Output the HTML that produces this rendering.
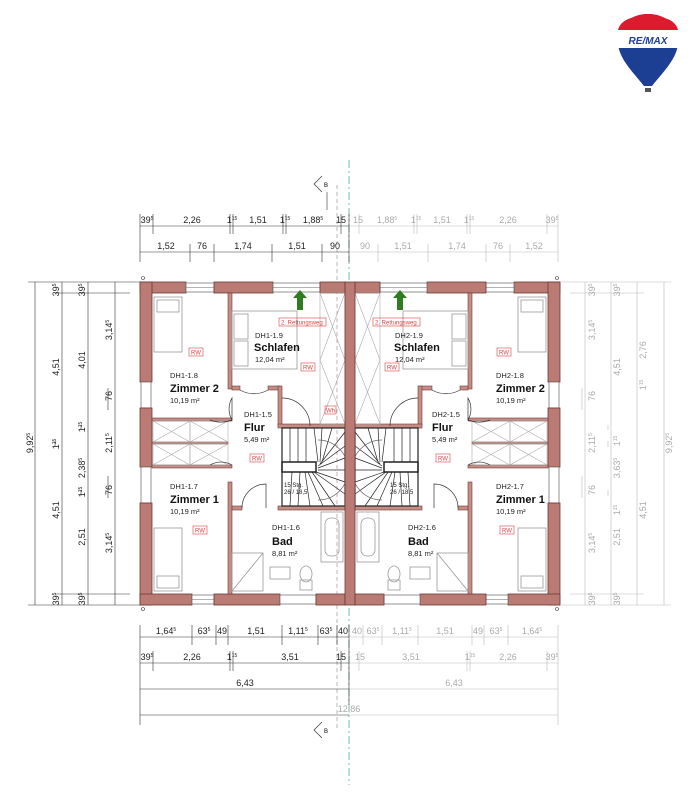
<!DOCTYPE html>
<html><head><meta charset="utf-8"><style>
html,body{margin:0;padding:0;background:#fff;}
svg{display:block;font-family:"Liberation Sans",sans-serif;}
.w{fill:#b97b74;stroke:#6e3a35;stroke-width:0.8}
.iw{fill:#c48d86;stroke:#6e3a35;stroke-width:0.6}
.win{fill:#fff;stroke:#666;stroke-width:0.7}
.f{fill:none;stroke:#999;stroke-width:0.8}
.dl{stroke:#333;stroke-width:0.6;fill:none}
.gl{stroke:#bbb;stroke-width:0.6;fill:none}
.t{font-size:9px;fill:#222}
.g{font-size:9px;fill:#aaa}
.lab{font-size:7.5px;fill:#222}
.nm{font-size:11px;font-weight:bold;fill:#111}
.rw{font-size:6px;fill:#d44}
</style></head><body>
<svg width="693" height="800" viewBox="0 0 693 800" xmlns="http://www.w3.org/2000/svg">
<defs>
<g id="house">
  <!-- outer walls -->
  <rect class="w" x="140" y="282" width="46" height="11"/>
  <rect class="win" x="186" y="283" width="28" height="9"/><line x1="186" y1="287.5" x2="214" y2="287.5" stroke="#666" stroke-width="0.6"/>
  <rect class="w" x="214" y="282" width="59" height="11"/>
  <rect class="win" x="273" y="283" width="47" height="9"/><line x1="273" y1="287.5" x2="320" y2="287.5" stroke="#666" stroke-width="0.6"/>
  <rect class="w" x="320" y="282" width="25" height="11"/>
  <rect class="w" x="140" y="282" width="12" height="100"/>
  <rect class="win" x="141" y="382" width="10" height="26"/>
  <rect class="w" x="140" y="408" width="12" height="59"/>
  <rect class="win" x="141" y="467" width="10" height="36"/>
  <rect class="w" x="140" y="503" width="12" height="102"/>
  <rect class="w" x="140" y="594" width="52" height="11"/>
  <rect class="win" x="192" y="595" width="22" height="9"/><line x1="192" y1="599.5" x2="214" y2="599.5" stroke="#666" stroke-width="0.6"/>
  <rect class="w" x="214" y="594" width="66" height="11"/>
  <rect class="win" x="280" y="595" width="36" height="9"/>
  <rect class="w" x="316" y="594" width="29" height="11"/>
  <!-- interior walls -->
  <rect class="iw" x="228" y="293" width="4" height="96"/>
  <rect class="iw" x="228" y="482" width="4" height="112"/>
  <rect class="iw" x="232" y="386" width="8" height="4"/>
  <rect class="iw" x="268" y="386" width="12" height="4"/>
  <rect class="iw" x="278" y="386" width="4" height="40"/>
  <rect class="iw" x="278" y="424" width="67" height="4"/>
  <rect class="iw" x="152" y="418" width="80" height="3"/>
  <rect class="iw" x="152" y="465" width="80" height="3"/>
  <rect class="iw" x="152" y="442" width="76" height="2"/>
  <rect class="iw" x="232" y="506" width="10" height="4"/>
  <rect class="iw" x="278" y="506" width="67" height="4"/>
  <!-- wardrobes -->
  <g stroke="#aaa" stroke-width="0.6" fill="none">
   <rect x="153" y="421" width="37" height="21"/><rect x="190" y="421" width="38" height="21"/>
   <rect x="153" y="444" width="37" height="21"/><rect x="190" y="444" width="38" height="21"/>
   <path d="M153 421L190 442M190 421L153 442M190 421L228 442M228 421L190 442M153 444L190 465M190 444L153 465M190 444L228 465M228 444L190 465"/>
   <!-- shaft -->
   <rect x="320" y="293" width="25" height="131"/>
   <path d="M320 293L345 360M345 293L320 360M320 360L345 424M345 360L320 424"/>
  </g>
  <!-- door arcs -->
  <g stroke="#333" stroke-width="0.7" fill="none">
   <path d="M232 420 A22 22 0 0 1 232 398 L 232 420"/>
   <path d="M232 420 A30 30 0 0 1 210 420"/>
   <path d="M232 465 A22 22 0 0 0 210 465"/>
   <path d="M240 390 A28 28 0 0 0 268 390"/>
   <path d="M242 508 A24 24 0 0 1 266 484 L266 508"/>
   <path d="M282 398 A28 28 0 0 1 310 426"/>
  </g>
  <!-- stairs -->
  <g stroke="#222" stroke-width="0.7" fill="none">
   <rect x="282" y="428" width="63" height="78" stroke-width="1.2"/>
   <rect x="282" y="462" width="34" height="10" stroke-width="1.5"/>
   <path d="M290 428V462M298 428V462M306 428V462M314 428L318 462M322 428L320 462M332 428L322 462M345 432L320 464M345 446L318 466M345 458L318 468M345 470L318 470M345 482L316 472M345 494L314 472M335 506L312 472M323 506L308 472M310 506L305 472M298 506L300 472M290 506L292 472"/>
   <path d="M318 440 A30 30 0 0 1 318 500" stroke="#666"/>
  </g>
  <!-- furniture -->
  <g class="f">
   <rect x="154" y="297" width="28" height="55"/><rect x="157" y="300" width="22" height="12"/>
   <rect x="154" y="528" width="28" height="63"/><rect x="157" y="576" width="22" height="12"/>
   <rect x="232" y="311" width="65" height="58"/><rect x="234" y="314" width="14" height="25"/><rect x="234" y="341" width="14" height="25"/>
   <rect x="232" y="553" width="31" height="38"/><path d="M232 591L263 553"/>
   <rect x="321" y="512" width="22" height="50"/><rect x="325" y="518" width="14" height="38" rx="6"/>
   <rect x="270" y="567" width="20" height="12"/>
   <ellipse cx="306" cy="574" rx="6" ry="8"/><rect x="300" y="580" width="12" height="10"/>
  </g>
  <!-- green arrow -->
  <path d="M297 310V298H293L300 290L307 298H303V310Z" fill="#2e7d1f"/>
  <!-- dots -->
  <circle cx="143" cy="278" r="1.5" fill="none" stroke="#333" stroke-width="0.6"/>
  <circle cx="143" cy="609" r="1.5" fill="none" stroke="#333" stroke-width="0.6"/>
</g>
</defs>

<!-- center axis lines -->
<line x1="349" y1="160" x2="349" y2="785" stroke="#5a9" stroke-width="0.8" stroke-dasharray="8,3,2,3"/>
<line x1="337" y1="185" x2="337" y2="730" stroke="#888" stroke-width="0.6" stroke-dasharray="4,3"/>
<!-- section markers -->
<path d="M322 176L314 184L322 192" fill="none" stroke="#333" stroke-width="0.7"/><text x="324" y="187" style="font-size:6px">B</text>
<line x1="327" y1="192" x2="327" y2="210" stroke="#333" stroke-width="0.6"/>
<path d="M322 722L314 730L322 738" fill="none" stroke="#333" stroke-width="0.7"/><text x="324" y="733" style="font-size:6px">B</text>

<use href="#house"/>
<use href="#house" transform="translate(700,0) scale(-1,1)"/>
<rect class="w" x="345" y="282" width="10" height="323"/>

<!-- labels left -->
<text class="lab" x="255" y="338">DH1-1.9</text><text class="nm" x="254" y="351">Schlafen</text><text class="lab" x="255" y="362">12,04 m²</text>
<text class="lab" x="170" y="378">DH1-1.8</text><text class="nm" x="170" y="392">Zimmer 2</text><text class="lab" x="170" y="403">10,19 m²</text>
<text class="lab" x="244" y="417">DH1-1.5</text><text class="nm" x="244" y="431">Flur</text><text class="lab" x="244" y="442">5,49 m²</text>
<text class="lab" x="170" y="489">DH1-1.7</text><text class="nm" x="170" y="503">Zimmer 1</text><text class="lab" x="170" y="514">10,19 m²</text>
<text class="lab" x="272" y="530">DH1-1.6</text><text class="nm" x="272" y="545">Bad</text><text class="lab" x="272" y="556">8,81 m²</text>
<!-- labels right -->
<text class="lab" x="395" y="338">DH2-1.9</text><text class="nm" x="394" y="351">Schlafen</text><text class="lab" x="395" y="362">12,04 m²</text>
<text class="lab" x="496" y="378">DH2-1.8</text><text class="nm" x="496" y="392">Zimmer 2</text><text class="lab" x="496" y="403">10,19 m²</text>
<text class="lab" x="432" y="417">DH2-1.5</text><text class="nm" x="432" y="431">Flur</text><text class="lab" x="432" y="442">5,49 m²</text>
<text class="lab" x="496" y="489">DH2-1.7</text><text class="nm" x="496" y="503">Zimmer 1</text><text class="lab" x="496" y="514">10,19 m²</text>
<text class="lab" x="408" y="530">DH2-1.6</text><text class="nm" x="408" y="545">Bad</text><text class="lab" x="408" y="556">8,81 m²</text>
<!-- RW boxes -->
<g fill="none" stroke="#d44" stroke-width="0.6">
<rect x="189" y="348" width="14" height="8"/><rect x="301" y="363" width="14" height="8"/><rect x="250" y="454" width="14" height="8"/><rect x="193" y="526" width="14" height="8"/>
<rect x="497" y="348" width="14" height="8"/><rect x="385" y="363" width="14" height="8"/><rect x="436" y="454" width="14" height="8"/><rect x="500" y="526" width="14" height="8"/>
<rect x="279" y="318" width="47" height="8"/><rect x="373" y="318" width="47" height="8"/>
<rect x="325" y="406" width="11" height="8"/>
</g>
<g class="rw">
<text x="191" y="354.5">RW</text><text x="303" y="369.5">RW</text><text x="252" y="460.5">RW</text><text x="195" y="532.5">RW</text>
<text x="499" y="354.5">RW</text><text x="387" y="369.5">RW</text><text x="438" y="460.5">RW</text><text x="502" y="532.5">RW</text>
<text x="281" y="324.5">2. Rettungsweg</text><text x="375" y="324.5">2. Rettungsweg</text><text x="326" y="412.5">Wh</text>
</g>
<g style="font-size:6px" fill="#222">
<text x="284" y="487">15 Stg.</text><text x="284" y="494">26 / 18,5</text>
<text x="390" y="487">15 Stg.</text><text x="390" y="494">26 / 18,5</text>
</g>

<!-- TOP DIMENSIONS -->
<g class="dl">
<path d="M140 226H349M140 252H349M140 214V262M153 214V234M230 214V234M233 214V234M283 214V234M286 214V234M341 214V234M190 244V262M214 244V262M272 244V262M322 244V262M349 214V262"/>
</g>
<g class="gl">
<path d="M349 226H558M349 252H558M558 214V262M547 214V234M470 214V234M467 214V234M417 214V234M414 214V234M359 214V234M510 244V262M486 244V262M428 244V262M378 244V262"/>
</g>
<g class="t" text-anchor="middle">
<text x="147" y="223">39<tspan font-size="5" dy="-3">5</tspan></text><text x="192" y="223">2,26</text><text x="232" y="223">1<tspan font-size="5" dy="-3">15</tspan></text><text x="258" y="223">1,51</text><text x="285" y="223">1<tspan font-size="5" dy="-3">15</tspan></text><text x="313" y="223">1,88<tspan font-size="5" dy="-3">5</tspan></text><text x="341" y="223">15</text>
<text x="166" y="249">1,52</text><text x="202" y="249">76</text><text x="243" y="249">1,74</text><text x="297" y="249">1,51</text><text x="335" y="249">90</text>
</g>
<g class="g" text-anchor="middle">
<text x="358" y="223">15</text><text x="387" y="223">1,88<tspan font-size="5" dy="-3">5</tspan></text><text x="416" y="223">1<tspan font-size="5" dy="-3">15</tspan></text><text x="442" y="223">1,51</text><text x="469" y="223">1<tspan font-size="5" dy="-3">15</tspan></text><text x="508" y="223">2,26</text><text x="552" y="223">39<tspan font-size="5" dy="-3">5</tspan></text>
<text x="365" y="249">90</text><text x="403" y="249">1,51</text><text x="457" y="249">1,74</text><text x="498" y="249">76</text><text x="534" y="249">1,52</text>
</g>

<!-- BOTTOM DIMENSIONS -->
<g class="dl">
<path d="M140 637H349M140 663H349M140 689H349M140 715H349M140 625V725M192 625V645M216 625V645M228 625V645M282 625V645M318 625V645M337 625V645M153 651V671M230 651V671M233 651V671M341 651V671M349 625V705"/>
</g>
<g class="gl">
<path d="M349 637H558M349 663H558M349 689H558M349 715H558M558 625V725M508 625V645M484 625V645M472 625V645M418 625V645M382 625V645M363 625V645M547 651V671M470 651V671M467 651V671M359 651V671"/>
</g>
<g class="t" text-anchor="middle">
<text x="166" y="634">1,64<tspan font-size="5" dy="-3">5</tspan></text><text x="204" y="634">63<tspan font-size="5" dy="-3">5</tspan></text><text x="222" y="634">49</text><text x="256" y="634">1,51</text><text x="298" y="634">1,11<tspan font-size="5" dy="-3">5</tspan></text><text x="326" y="634">63<tspan font-size="5" dy="-3">5</tspan></text><text x="343" y="634">40</text>
<text x="147" y="660">39<tspan font-size="5" dy="-3">5</tspan></text><text x="192" y="660">2,26</text><text x="232" y="660">1<tspan font-size="5" dy="-3">15</tspan></text><text x="290" y="660">3,51</text><text x="341" y="660">15</text>
<text x="245" y="686">6,43</text>
</g>
<g class="g" text-anchor="middle">
<text x="357" y="634">40</text><text x="373" y="634">63<tspan font-size="5" dy="-3">5</tspan></text><text x="402" y="634">1,11<tspan font-size="5" dy="-3">5</tspan></text><text x="445" y="634">1,51</text><text x="478" y="634">49</text><text x="496" y="634">63<tspan font-size="5" dy="-3">5</tspan></text><text x="532" y="634">1,64<tspan font-size="5" dy="-3">5</tspan></text>
<text x="360" y="660">15</text><text x="411" y="660">3,51</text><text x="470" y="660">1<tspan font-size="5" dy="-3">15</tspan></text><text x="508" y="660">2,26</text><text x="552" y="660">39<tspan font-size="5" dy="-3">5</tspan></text>
<text x="454" y="686">6,43</text><text x="349" y="712">12,86</text>
</g>

<!-- LEFT DIMENSIONS -->
<g class="dl">
<path d="M35 282V605M62 282V605M88 282V605M115 282V605M28 282H140M28 605H140M55 293H130M55 594H130M55 441V447M81 425V430M81 490V496M108 388V410M108 476V498"/>
</g>
<g class="t" text-anchor="middle">
<text transform="translate(33,443) rotate(-90)">9,92<tspan font-size="5" dy="-3">5</tspan></text>
<text transform="translate(59,290) rotate(-90)">39<tspan font-size="5" dy="-3">5</tspan></text>
<text transform="translate(59,367) rotate(-90)">4,51</text>
<text transform="translate(59,444) rotate(-90)">1<tspan font-size="5" dy="-3">15</tspan></text>
<text transform="translate(59,510) rotate(-90)">4,51</text>
<text transform="translate(59,599) rotate(-90)">39<tspan font-size="5" dy="-3">5</tspan></text>
<text transform="translate(85,290) rotate(-90)">39<tspan font-size="5" dy="-3">5</tspan></text>
<text transform="translate(85,360) rotate(-90)">4,01</text>
<text transform="translate(85,427) rotate(-90)">1<tspan font-size="5" dy="-3">15</tspan></text>
<text transform="translate(85,468) rotate(-90)">2,38<tspan font-size="5" dy="-3">5</tspan></text>
<text transform="translate(85,492) rotate(-90)">1<tspan font-size="5" dy="-3">15</tspan></text>
<text transform="translate(85,537) rotate(-90)">2,51</text>
<text transform="translate(85,599) rotate(-90)">39<tspan font-size="5" dy="-3">5</tspan></text>
<text transform="translate(112,330) rotate(-90)">3,14<tspan font-size="5" dy="-3">5</tspan></text>
<text transform="translate(112,396) rotate(-90)">76</text>
<text transform="translate(112,443) rotate(-90)">2,11<tspan font-size="5" dy="-3">5</tspan></text>
<text transform="translate(112,490) rotate(-90)">76</text>
<text transform="translate(112,543) rotate(-90)">3,14<tspan font-size="5" dy="-3">5</tspan></text>
</g>
<!-- RIGHT DIMENSIONS -->
<g class="gl">
<path d="M585 282V605M611 282V605M637 282V605M664 282V605M560 282H671M560 605H671M570 293H644M570 594H644M608 441V447M608 425V430M608 490V496M582 388V410M582 476V498"/>
</g>
<g class="g" text-anchor="middle">
<text transform="translate(595,330) rotate(-90)">3,14<tspan font-size="5" dy="-3">5</tspan></text>
<text transform="translate(595,396) rotate(-90)">76</text>
<text transform="translate(595,443) rotate(-90)">2,11<tspan font-size="5" dy="-3">5</tspan></text>
<text transform="translate(595,490) rotate(-90)">76</text>
<text transform="translate(595,543) rotate(-90)">3,14<tspan font-size="5" dy="-3">5</tspan></text>
<text transform="translate(595,599) rotate(-90)">39<tspan font-size="5" dy="-3">5</tspan></text>
<text transform="translate(595,290) rotate(-90)">39<tspan font-size="5" dy="-3">5</tspan></text>
<text transform="translate(620,367) rotate(-90)">4,51</text>
<text transform="translate(620,441) rotate(-90)">1<tspan font-size="5" dy="-3">15</tspan></text>
<text transform="translate(620,468) rotate(-90)">3,63<tspan font-size="5" dy="-3">5</tspan></text>
<text transform="translate(620,510) rotate(-90)">1<tspan font-size="5" dy="-3">15</tspan></text>
<text transform="translate(620,537) rotate(-90)">2,51</text>
<text transform="translate(620,599) rotate(-90)">39<tspan font-size="5" dy="-3">5</tspan></text>
<text transform="translate(620,290) rotate(-90)">39<tspan font-size="5" dy="-3">5</tspan></text>
<text transform="translate(646,350) rotate(-90)">2,76</text>
<text transform="translate(646,385) rotate(-90)">1<tspan font-size="5" dy="-3">15</tspan></text>
<text transform="translate(646,510) rotate(-90)">4,51</text>
<text transform="translate(672,443) rotate(-90)">9,92<tspan font-size="5" dy="-3">5</tspan></text>
</g>

<!-- RE/MAX balloon -->
<g>
 <path d="M648 14C628 14 618 28 618 42C618 58 633 72 644 86H652C663 72 678 58 678 42C678 28 668 14 648 14Z" fill="#1c3f94"/>
 <path d="M648 14C628 14 618 28 618 42L619 44H677L678 42C678 28 668 14 648 14Z" fill="#dc1c2e"/>
 <rect x="618" y="30" width="60" height="18" fill="#fff"/>
 <path d="M618 30C620 22 628 16 648 16C668 16 676 22 678 30Z" fill="#dc1c2e"/>
 <text x="648" y="44" text-anchor="middle" style="font-size:10px;font-weight:bold;font-style:italic" fill="#1c3f94">RE/MAX</text>
 <rect x="645" y="88" width="6" height="4" fill="#555"/>
</g>
</svg>
</body></html>
